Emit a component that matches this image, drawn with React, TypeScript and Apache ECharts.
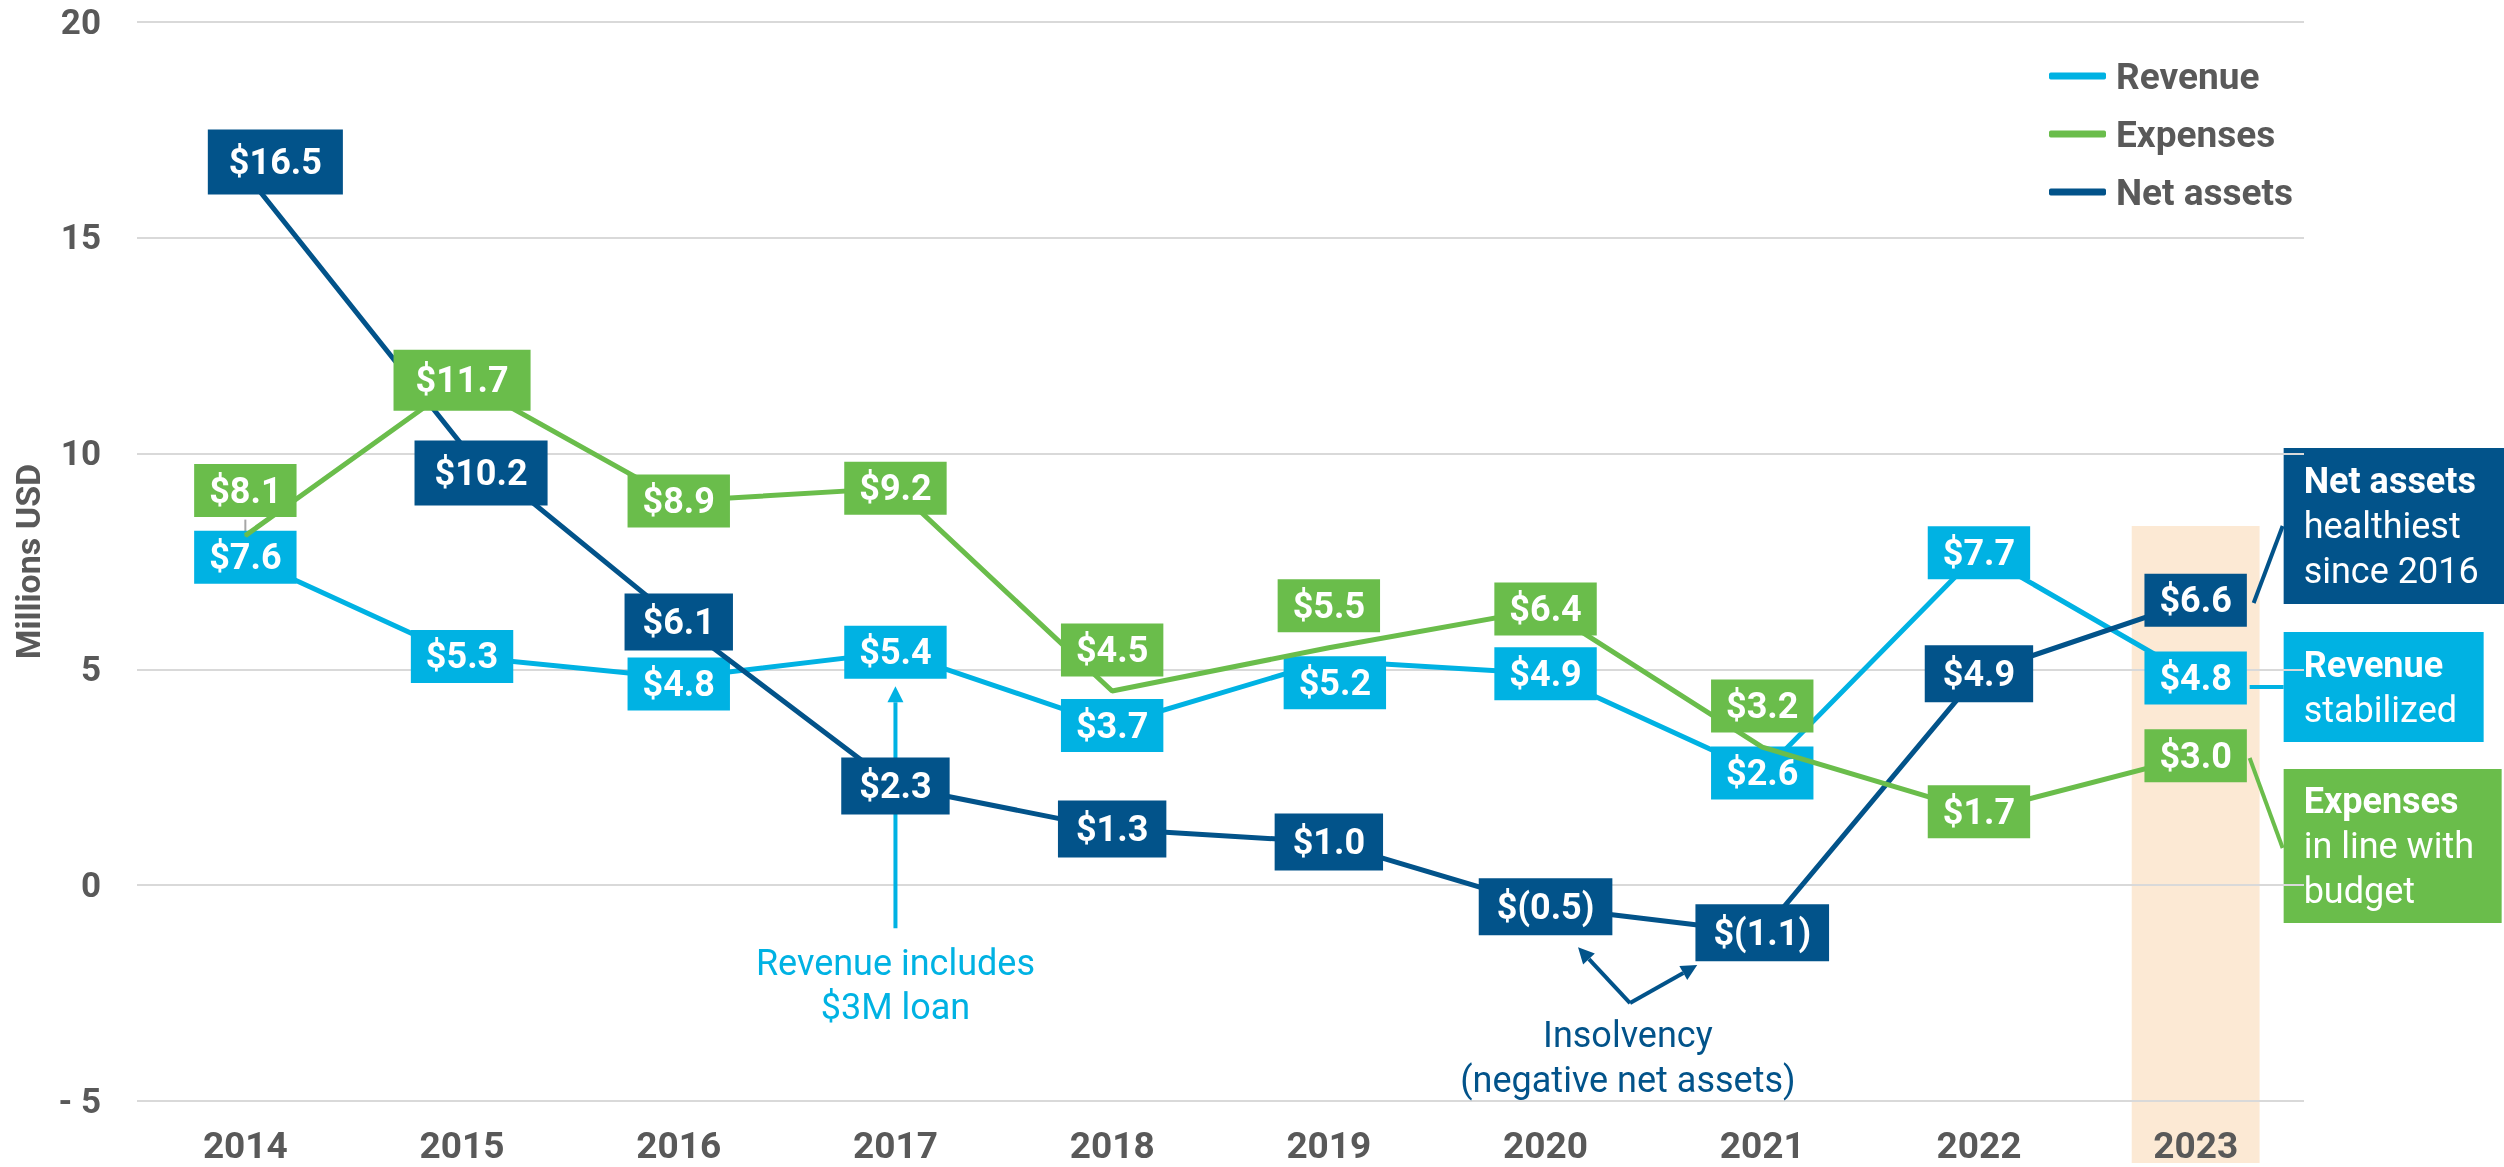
import React, { useEffect, useRef } from "react";
import * as echarts from "echarts";

const years = ["2014", "2015", "2016", "2017", "2018", "2019", "2020", "2021", "2022", "2023"];
const revenue = [7.6, 5.3, 4.8, 5.4, 3.7, 5.2, 4.9, 2.6, 7.7, 4.8];
const expenses = [8.1, 11.7, 8.9, 9.2, 4.5, 5.5, 6.4, 3.2, 1.7, 3.0];
const netAssets = [16.5, 10.2, 6.1, 2.3, 1.3, 1.0, -0.5, -1.1, 4.9, 6.6];
const yMin = -5;
const yMax = 20;
const yInterval = 5;

const C_REV = "#00B2E3";
const C_EXP = "#6ABD4B";
const C_NET = "#02538A";
const C_GRAY = "#595959";
const FONT = 'Roboto, "Noto Sans", sans-serif';

// label placement tweaks (pixels), per point
const revOffsets = [[0, 0], [0, 0], [0, 6], [0, 0], [0, 0], [6, 22], [0, 0], [0, 0], [0, 0], [0, 0]];
const expOffsets = [[0, -45], [0, 0], [0, 0], [0, 0], [0, -41], [0, -42], [0, 0], [0, -41], [0, 0], [0, 0]];
const netOffsets = [[30, -11], [19, 28], [0, 0], [0, 0], [0, 0], [0, 0], [0, 0], [0, 0], [0, 0], [0, 0]];
const netPads = [[14, 21], [14, 20], [10, 18], [10, 18], [10, 18], [10, 18], [10, 18], [10, 18], [10, 18], [8, 15]];
const expPads = [[8, 15], [12, 22], [8, 15], [8, 15], [8, 15], [8, 15], [8, 15], [8, 15], [8, 15], [8, 15]];

const fmt = (v: number) => (v < 0 ? `$(${Math.abs(v).toFixed(1)})` : `$${v.toFixed(1)}`);

function makeSeries(name: string, values: number[], color: string, offsets: number[][], pads: number[][] | null, z: number) {
  return {
    name,
    type: "line",
    z,
    data: values.map((v, i) => ({
      value: v,
      label: { offset: offsets[i], padding: pads ? pads[i] : [8, 15] },
    })),
    symbol: "circle",
    symbolSize: 2,
    lineStyle: { color, width: 5 },
    itemStyle: { color },
    emphasis: { disabled: true },
    label: {
      show: true,
      position: "inside",
      formatter: (p: any) => fmt(p.value),
      color: "#ffffff",
      fontFamily: FONT,
      fontWeight: "bold",
      fontSize: 36,
      lineHeight: 37,
      backgroundColor: color,
    },
  };
}

export default function App() {
  const ref = useRef<HTMLDivElement>(null);
  useEffect(() => {
    const el = ref.current!;
    const chart = echarts.init(el, null, { renderer: "svg" });
    chart.setOption({
      animation: false,
      grid: { left: 137, right: 200, top: 22, bottom: 66 },
      legend: {
        orient: "vertical",
        left: 2044,
        top: 51,
        itemWidth: 57,
        itemHeight: 7,
        itemGap: 18,
        icon: "roundRect",
        data: ["Revenue", "Expenses", "Net assets"],
        textStyle: { fontFamily: FONT, fontSize: 37, fontWeight: "bold", color: C_GRAY, lineHeight: 40, padding: [0, 0, 0, 5] },
      },
      xAxis: {
        type: "category",
        data: years,
        boundaryGap: true,
        axisLine: { show: false },
        axisTick: { show: false },
        axisLabel: { fontFamily: FONT, fontSize: 37, fontWeight: "bold", color: C_GRAY, margin: 26 },
      },
      yAxis: {
        type: "value",
        min: yMin,
        max: yMax,
        interval: yInterval,
        name: "Millions USD",
        nameLocation: "middle",
        nameRotate: 90,
        nameGap: 92,
        nameTextStyle: { fontFamily: FONT, fontSize: 34, fontWeight: "bold", color: C_GRAY },
        axisLine: { show: false },
        axisTick: { show: false },
        splitLine: { lineStyle: { color: "#D9D9D9", width: 2 } },
        axisLabel: {
          fontFamily: FONT,
          fontSize: 35,
          fontWeight: "bold",
          color: C_GRAY,
          margin: 36,
          formatter: (v: number) => (v < 0 ? `- ${Math.abs(v)}` : `${v}`),
        },
      },
      series: [
        makeSeries("Revenue", revenue, C_REV, revOffsets, null, 2),
        makeSeries("Net assets", netAssets, C_NET, netOffsets, netPads, 3),
        makeSeries("Expenses", expenses, C_EXP, expOffsets, expPads, 4),
      ],
    });

    const pt = (i: number, v: number) => {
      const a = chart.convertToPixel({ gridIndex: 0 }, [0, v]) as number[];
      const b = chart.convertToPixel({ gridIndex: 0 }, [1, v]) as number[];
      return [a[0] + (b[0] - a[0]) * i, a[1]];
    };
    const catW = pt(1, 0)[0] - pt(0, 0)[0];
    const H = chart.getHeight();
    const W = chart.getWidth();

    const arrow = (x1: number, y1: number, x2: number, y2: number, color: string, w: number, z: number) => {
      const dx = x2 - x1, dy = y2 - y1;
      const L = Math.sqrt(dx * dx + dy * dy);
      const ux = dx / L, uy = dy / L;
      const hl = 16, hw = 8;
      const bx = x2 - ux * hl, by = y2 - uy * hl;
      return [
        { type: "line", z, shape: { x1, y1, x2: bx, y2: by }, style: { stroke: color, lineWidth: w } },
        {
          type: "polygon",
          z,
          shape: { points: [[x2, y2], [bx - uy * hw, by + ux * hw], [bx + uy * hw, by - ux * hw]] },
          style: { fill: color },
        },
      ];
    };

    const g: any[] = [];
    // 2023 highlight band
    const bandX = pt(9, 0)[0];
    const bandW = catW * 0.59;
    const bandTop = pt(9, 8.32)[1];
    g.push({ type: "rect", z: -10, shape: { x: bandX - bandW / 2, y: bandTop, width: bandW, height: H - 4 - bandTop }, style: { fill: "#FCE9D4" } });

    // $8.1 leader
    const p81 = pt(0, expenses[0]);
    g.push({ type: "line", z: 1, shape: { x1: p81[0], y1: p81[1] - 16, x2: p81[0], y2: p81[1] }, style: { stroke: "#A6A6A6", lineWidth: 2 } });

    // Revenue includes $3M loan
    const a1 = pt(3, -1.0), a2 = pt(3, 4.61);
    g.push(...arrow(a1[0], a1[1], a2[0], a2[1], C_REV, 4, 1));
    const t1 = pt(3, -2.32);
    g.push({
      type: "text", z: 1, x: t1[0], y: t1[1],
      style: { text: "Revenue includes\n$3M loan", fill: C_REV, fontFamily: FONT, fontSize: 36, lineHeight: 44, align: "center", verticalAlign: "middle" },
    });

    // Insolvency
    const v = pt(6.39, -2.73), l = pt(6.15, -1.44), r = pt(6.70, -1.85);
    g.push(...arrow(v[0], v[1], l[0], l[1], C_NET, 4, 1));
    g.push(...arrow(v[0], v[1], r[0], r[1], C_NET, 4, 1));
    const t2 = pt(6.38, -4.0);
    g.push({
      type: "text", z: 1, x: t2[0], y: t2[1],
      style: { text: "Insolvency\n(negative net assets)", fill: C_NET, fontFamily: FONT, fontSize: 36, lineHeight: 45, align: "center", verticalAlign: "middle" },
    });

    // Right callouts
    const bx = bandX + 88;
    const boxes = [
      { y: 448, h: 156, w: W - bx, color: C_NET, bold: "Net assets", rest: ["healthiest", "since 2016"] },
      { y: 632, h: 110, w: 200, color: C_REV, bold: "Revenue", rest: ["stabilized"] },
      { y: 769, h: 154, w: 218, color: C_EXP, bold: "Expenses", rest: ["in line with", "budget"] },
    ];
    boxes.forEach((b) => {
      g.push({ type: "rect", z: -10, shape: { x: bx, y: b.y, width: b.w, height: b.h }, style: { fill: b.color } });
      g.push({
        type: "text", z: 5, x: bx + 20, y: b.y + b.h / 2,
        style: {
          text: `{b|${b.bold}}\n` + b.rest.map((s) => `{r|${s}}`).join("\n"),
          fill: "#ffffff",
          align: "left",
          verticalAlign: "middle",
          rich: {
            b: { fontFamily: FONT, fontSize: 36, fontWeight: "bold", fill: "#ffffff", lineHeight: 45 },
            r: { fontFamily: FONT, fontSize: 36, fill: "#ffffff", lineHeight: 45 },
          },
        },
      });
    });
    // leaders
    g.push({ type: "line", z: 1, shape: { x1: bandX + 58, y1: 603, x2: bx - 1, y2: 526 }, style: { stroke: C_NET, lineWidth: 4 } });
    g.push({ type: "line", z: 1, shape: { x1: bandX + 54, y1: 687, x2: bx, y2: 687 }, style: { stroke: C_REV, lineWidth: 4 } });
    g.push({ type: "line", z: 1, shape: { x1: bandX + 54, y1: 758, x2: bx - 1, y2: 848 }, style: { stroke: C_EXP, lineWidth: 4 } });

    chart.setOption({ graphic: g });
    return () => chart.dispose();
  }, []);
  return <div ref={ref} style={{ position: "fixed", left: 0, top: 0, width: 2504, height: 1167 }} />;
}
